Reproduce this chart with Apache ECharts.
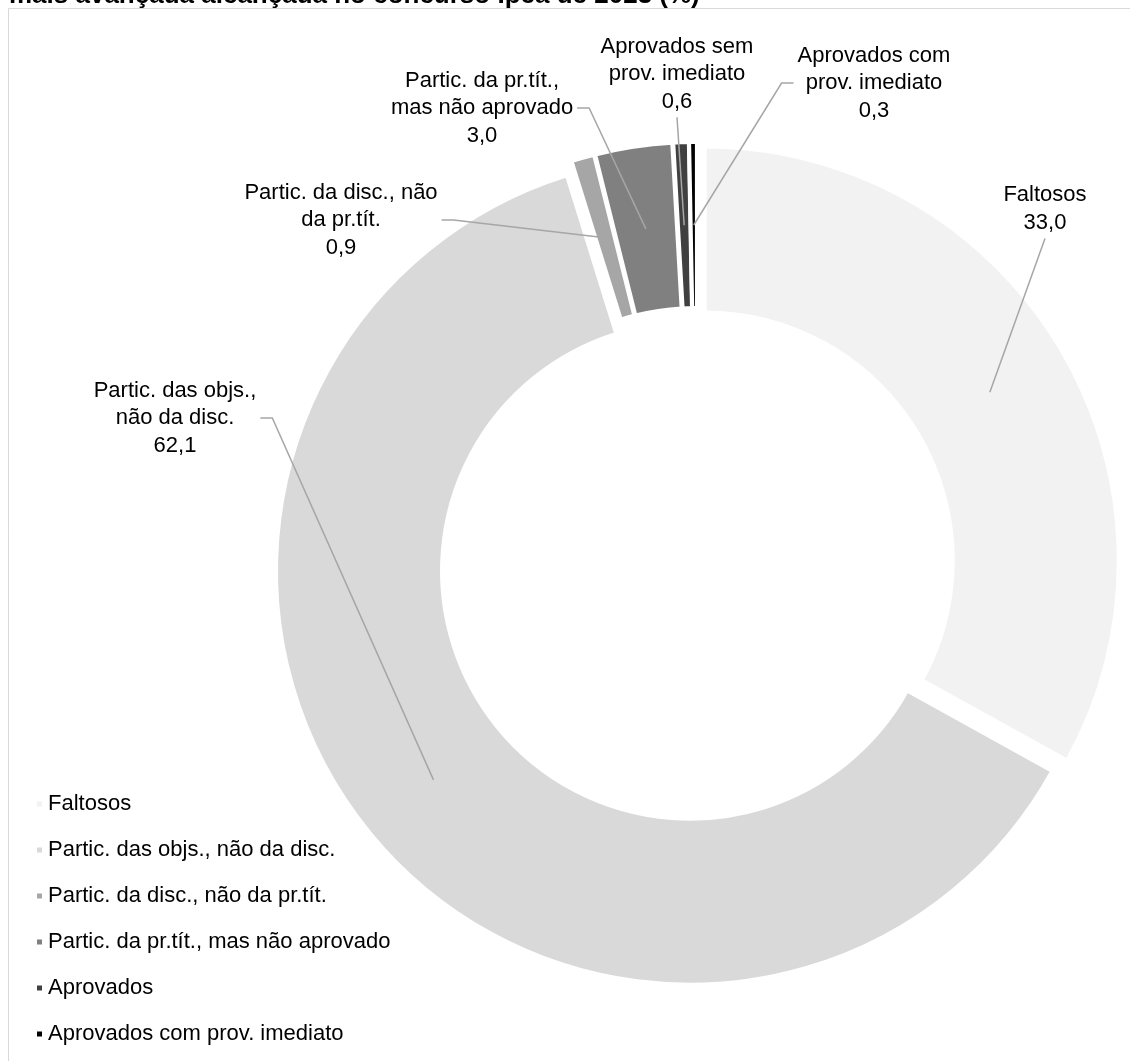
<!DOCTYPE html>
<html>
<head>
<meta charset="utf-8">
<script src="https://cdn.jsdelivr.net/npm/echarts@6/dist/echarts.min.js"></script>
<style>
html,body{margin:0;padding:0;background:#fff;}
#chart{width:1130px;height:1061px;}
</style>
</head>
<body>
<div id="chart"></div>
<script>
// ---- data ----
const categories = ['Faltosos', 'Partic. das objs., não da disc.', 'Partic. da disc., não da pr.tít.', 'Partic. da pr.tít., mas não aprovado', 'Aprovados', 'Aprovados com prov. imediato'];
const labelTexts = ['Faltosos', 'Partic. das objs.,\nnão da disc.', 'Partic. da disc., não\nda pr.tít.', 'Partic. da pr.tít.,\nmas não aprovado', 'Aprovados sem\nprov. imediato', 'Aprovados com\nprov. imediato'];
const values = [33.0, 62.1, 0.9, 3.0, 0.6, 0.3];
const colors = ['#f2f2f2', '#d9d9d9', '#a6a6a6', '#808080', '#404040', '#000000'];
const titleText = 'mais avançada alcançada no concurso Ipea de 2023 (%)';

// ---- layout (label anchors, not data) ----
const labelAnchors = [
  {x: 1045, y: 209, side: 'bottom'},
  {x: 175, y: 418, side: 'right'},
  {x: 341, y: 220, side: 'right'},
  {x: 482, y: 108, side: 'right'},
  {x: 677, y: 74, side: 'bottom'},
  {x: 874, y: 83, side: 'left'}
];
const CENTER = [697, 565];
const FONT = '"Liberation Sans", Arial, sans-serif';

function fmt(v) { return v.toFixed(1).replace('.', ','); }

const chart = echarts.init(document.getElementById('chart'), null, {renderer: 'canvas'});

const mainData = categories.map((n, i) => ({
  name: n, value: values[i], selected: true,
  itemStyle: {color: colors[i]}
}));
const labelData = categories.map((n, i) => ({name: n, value: values[i]}));

const option = {
  animation: false,
  backgroundColor: '#ffffff',
  title: {
    text: titleText, left: 9, top: -19, padding: 0,
    textStyle: {fontFamily: FONT, fontWeight: 'bold', fontSize: 26, lineHeight: 30, color: '#000'}
  },
  graphic: [{
    type: 'rect', z: -10, silent: true,
    shape: {x: 8.5, y: 8.5, width: 1200, height: 1200},
    style: {fill: 'none', stroke: '#d9d9d9', lineWidth: 1}
  }],
  legend: {
    orient: 'vertical', left: 30, top: 787,
    data: categories, icon: 'rect', itemWidth: 7, itemHeight: 7, itemGap: 22,
    selectedMode: false,
    textStyle: {fontFamily: FONT, fontSize: 22, lineHeight: 24, color: '#000'}
  },
  series: [
    {
      type: 'pie', name: 'main', center: CENTER, radius: [248, 414],
      startAngle: 90, clockwise: true,
      selectedMode: 'multiple', selectedOffset: 9,
      itemStyle: {borderColor: '#ffffff', borderWidth: 4},
      select: {itemStyle: {borderColor: '#ffffff', borderWidth: 4}},
      emphasis: {disabled: true},
      label: {show: false}, labelLine: {show: false},
      data: mainData, z: 2
    },
    {
      type: 'pie', name: 'labels', center: CENTER, radius: [0, 340],
      startAngle: 90, clockwise: true, silent: true,
      avoidLabelOverlap: false,
      itemStyle: {color: 'rgba(0,0,0,0)', borderWidth: 0},
      emphasis: {disabled: true},
      label: {
        show: true, position: 'outside', align: 'center',
        fontFamily: FONT, fontSize: 22, lineHeight: 27.5, color: '#000',
        formatter: p => labelTexts[p.dataIndex] + '\n' + fmt(p.value)
      },
      labelLine: {show: true, length: 10, length2: 10, lineStyle: {color: '#a6a6a6', width: 1.5}},
      labelLayout: function (params) {
        const a = labelAnchors[params.dataIndex];
        const w = params.labelRect.width, h = params.labelRect.height;
        const p0 = params.labelLinePoints ? params.labelLinePoints[0] : [CENTER[0], CENTER[1]];
        let near, far;
        if (a.side === 'right') {
          near = [a.x + w / 2 + 4, a.y]; far = [near[0] + 12, a.y];
        } else if (a.side === 'left') {
          near = [a.x - w / 2 - 4, a.y]; far = [near[0] - 12, a.y];
        } else {
          near = [a.x, a.y + h / 2 + 2]; far = near.slice();
        }
        return {x: a.x, y: a.y, align: 'center', verticalAlign: 'middle',
                labelLinePoints: [p0, far, near]};
      },
      data: labelData, z: 3
    }
  ]
};
chart.setOption(option);
</script>
</body>
</html>
